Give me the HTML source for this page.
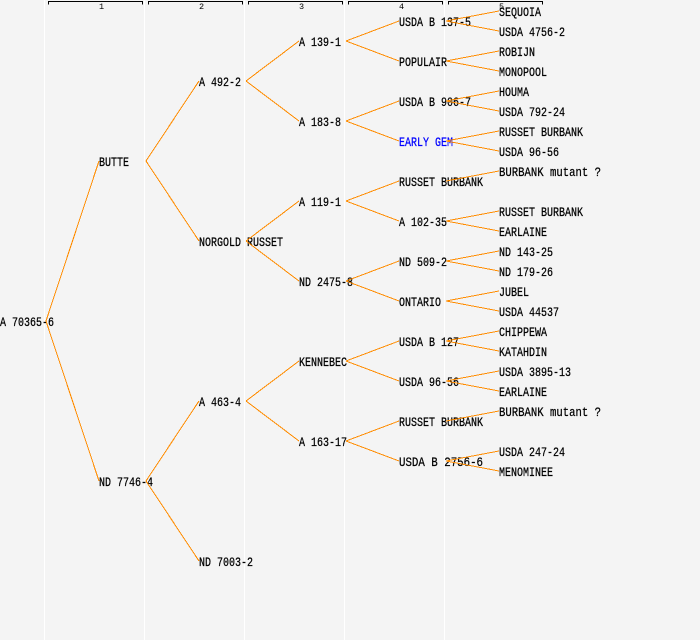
<!DOCTYPE html>
<html>
<head>
<meta charset="utf-8">
<style>
html,body{margin:0;padding:0;background:#f4f4f4;}
svg{display:block;}
text{font-family:"Liberation Mono","DejaVu Sans Mono",monospace;}
</style>
</head>
<body>
<svg width="700" height="640" viewBox="0 0 700 640" xmlns="http://www.w3.org/2000/svg">
<rect x="0" y="0" width="700" height="640" fill="#f4f4f4"/>
<g fill="#ffffff">
<rect x="44" y="0" width="1" height="640"/>
<rect x="144" y="0" width="1" height="640"/>
<rect x="244" y="0" width="1" height="640"/>
<rect x="344" y="0" width="1" height="640"/>
<rect x="444" y="0" width="1" height="640"/>
</g>
<g fill="none" stroke="#000" stroke-width="1" shape-rendering="crispEdges">
<path d="M48.5,4.5 V1.5 H142.5 V4.5"/>
<path d="M148.5,4.5 V1.5 H242.5 V4.5"/>
<path d="M248.5,4.5 V1.5 H342.5 V4.5"/>
<path d="M348.5,4.5 V1.5 H442.5 V4.5"/>
<path d="M448.5,4.5 V1.5 H542.5 V4.5"/>
</g>
<g font-size="8.5" fill="#000" text-anchor="middle">
<text x="101.5" y="9">1</text>
<text x="201.5" y="9">2</text>
<text x="301.5" y="9">3</text>
<text x="401.5" y="9">4</text>
<text x="501.5" y="9">5</text>
</g>
<g font-size="13" fill="#000" stroke="#000" stroke-width="0.25">
<text x="0" y="326" textLength="54" lengthAdjust="spacingAndGlyphs">A 70365-6</text>
<text x="99" y="166" textLength="30" lengthAdjust="spacingAndGlyphs">BUTTE</text>
<text x="99" y="486" textLength="54" lengthAdjust="spacingAndGlyphs">ND 7746-4</text>
<text x="199" y="86" textLength="42" lengthAdjust="spacingAndGlyphs">A 492-2</text>
<text x="199" y="246" textLength="84" lengthAdjust="spacingAndGlyphs">NORGOLD RUSSET</text>
<text x="199" y="406" textLength="42" lengthAdjust="spacingAndGlyphs">A 463-4</text>
<text x="199" y="566" textLength="54" lengthAdjust="spacingAndGlyphs">ND 7003-2</text>
<text x="299" y="46" textLength="42" lengthAdjust="spacingAndGlyphs">A 139-1</text>
<text x="299" y="126" textLength="42" lengthAdjust="spacingAndGlyphs">A 183-8</text>
<text x="299" y="206" textLength="42" lengthAdjust="spacingAndGlyphs">A 119-1</text>
<text x="299" y="286" textLength="54" lengthAdjust="spacingAndGlyphs">ND 2475-8</text>
<text x="299" y="366" textLength="48" lengthAdjust="spacingAndGlyphs">KENNEBEC</text>
<text x="299" y="446" textLength="48" lengthAdjust="spacingAndGlyphs">A 163-17</text>
<text x="399" y="26" textLength="72" lengthAdjust="spacingAndGlyphs">USDA B 137-5</text>
<text x="399" y="66" textLength="48" lengthAdjust="spacingAndGlyphs">POPULAIR</text>
<text x="399" y="106" textLength="72" lengthAdjust="spacingAndGlyphs">USDA B 906-7</text>
<text x="399" y="146" textLength="54" lengthAdjust="spacingAndGlyphs" fill="#0000ff" stroke="#0000ff">EARLY GEM</text>
<text x="399" y="186" textLength="84" lengthAdjust="spacingAndGlyphs">RUSSET BURBANK</text>
<text x="399" y="226" textLength="48" lengthAdjust="spacingAndGlyphs">A 102-35</text>
<text x="399" y="266" textLength="48" lengthAdjust="spacingAndGlyphs">ND 509-2</text>
<text x="399" y="306" textLength="42" lengthAdjust="spacingAndGlyphs">ONTARIO</text>
<text x="399" y="346" textLength="60" lengthAdjust="spacingAndGlyphs">USDA B 127</text>
<text x="399" y="386" textLength="60" lengthAdjust="spacingAndGlyphs">USDA 96-56</text>
<text x="399" y="426" textLength="84" lengthAdjust="spacingAndGlyphs">RUSSET BURBANK</text>
<text x="399" y="466" textLength="84" lengthAdjust="spacingAndGlyphs">USDA B 2756-6</text>
<text x="499" y="16" textLength="42" lengthAdjust="spacingAndGlyphs">SEQUOIA</text>
<text x="499" y="36" textLength="66" lengthAdjust="spacingAndGlyphs">USDA 4756-2</text>
<text x="499" y="56" textLength="36" lengthAdjust="spacingAndGlyphs">ROBIJN</text>
<text x="499" y="76" textLength="48" lengthAdjust="spacingAndGlyphs">MONOPOOL</text>
<text x="499" y="96" textLength="30" lengthAdjust="spacingAndGlyphs">HOUMA</text>
<text x="499" y="116" textLength="66" lengthAdjust="spacingAndGlyphs">USDA 792-24</text>
<text x="499" y="136" textLength="84" lengthAdjust="spacingAndGlyphs">RUSSET BURBANK</text>
<text x="499" y="156" textLength="60" lengthAdjust="spacingAndGlyphs">USDA 96-56</text>
<text x="499" y="176" textLength="102" lengthAdjust="spacingAndGlyphs">BURBANK mutant ?</text>
<text x="499" y="216" textLength="84" lengthAdjust="spacingAndGlyphs">RUSSET BURBANK</text>
<text x="499" y="236" textLength="48" lengthAdjust="spacingAndGlyphs">EARLAINE</text>
<text x="499" y="256" textLength="54" lengthAdjust="spacingAndGlyphs">ND 143-25</text>
<text x="499" y="276" textLength="54" lengthAdjust="spacingAndGlyphs">ND 179-26</text>
<text x="499" y="296" textLength="30" lengthAdjust="spacingAndGlyphs">JUBEL</text>
<text x="499" y="316" textLength="60" lengthAdjust="spacingAndGlyphs">USDA 44537</text>
<text x="499" y="336" textLength="48" lengthAdjust="spacingAndGlyphs">CHIPPEWA</text>
<text x="499" y="356" textLength="48" lengthAdjust="spacingAndGlyphs">KATAHDIN</text>
<text x="499" y="376" textLength="72" lengthAdjust="spacingAndGlyphs">USDA 3895-13</text>
<text x="499" y="396" textLength="48" lengthAdjust="spacingAndGlyphs">EARLAINE</text>
<text x="499" y="416" textLength="102" lengthAdjust="spacingAndGlyphs">BURBANK mutant ?</text>
<text x="499" y="456" textLength="66" lengthAdjust="spacingAndGlyphs">USDA 247-24</text>
<text x="499" y="476" textLength="54" lengthAdjust="spacingAndGlyphs">MENOMINEE</text>
</g>
<g stroke="#ff8c00" stroke-width="1" fill="none" shape-rendering="crispEdges">
<line x1="46" y1="321" x2="99" y2="161"/>
<line x1="46" y1="321" x2="99" y2="481"/>
<line x1="146" y1="161" x2="199" y2="81"/>
<line x1="146" y1="161" x2="199" y2="241"/>
<line x1="146" y1="481" x2="199" y2="401"/>
<line x1="146" y1="481" x2="199" y2="561"/>
<line x1="246" y1="81" x2="299" y2="41"/>
<line x1="246" y1="81" x2="299" y2="121"/>
<line x1="246" y1="241" x2="299" y2="201"/>
<line x1="246" y1="241" x2="299" y2="281"/>
<line x1="246" y1="401" x2="299" y2="361"/>
<line x1="246" y1="401" x2="299" y2="441"/>
<line x1="346" y1="41" x2="399" y2="21"/>
<line x1="346" y1="41" x2="399" y2="61"/>
<line x1="346" y1="121" x2="399" y2="101"/>
<line x1="346" y1="121" x2="399" y2="141"/>
<line x1="346" y1="201" x2="399" y2="181"/>
<line x1="346" y1="201" x2="399" y2="221"/>
<line x1="346" y1="281" x2="399" y2="261"/>
<line x1="346" y1="281" x2="399" y2="301"/>
<line x1="346" y1="361" x2="399" y2="341"/>
<line x1="346" y1="361" x2="399" y2="381"/>
<line x1="346" y1="441" x2="399" y2="421"/>
<line x1="346" y1="441" x2="399" y2="461"/>
<line x1="446" y1="21" x2="499" y2="11"/>
<line x1="446" y1="21" x2="499" y2="31"/>
<line x1="446" y1="61" x2="499" y2="51"/>
<line x1="446" y1="61" x2="499" y2="71"/>
<line x1="446" y1="101" x2="499" y2="91"/>
<line x1="446" y1="101" x2="499" y2="111"/>
<line x1="446" y1="141" x2="499" y2="131"/>
<line x1="446" y1="141" x2="499" y2="151"/>
<line x1="446" y1="181" x2="499" y2="171"/>
<line x1="446" y1="221" x2="499" y2="211"/>
<line x1="446" y1="221" x2="499" y2="231"/>
<line x1="446" y1="261" x2="499" y2="251"/>
<line x1="446" y1="261" x2="499" y2="271"/>
<line x1="446" y1="301" x2="499" y2="291"/>
<line x1="446" y1="301" x2="499" y2="311"/>
<line x1="446" y1="341" x2="499" y2="331"/>
<line x1="446" y1="341" x2="499" y2="351"/>
<line x1="446" y1="381" x2="499" y2="371"/>
<line x1="446" y1="381" x2="499" y2="391"/>
<line x1="446" y1="421" x2="499" y2="411"/>
<line x1="446" y1="461" x2="499" y2="451"/>
<line x1="446" y1="461" x2="499" y2="471"/>
</g>
</svg>
</body>
</html>
